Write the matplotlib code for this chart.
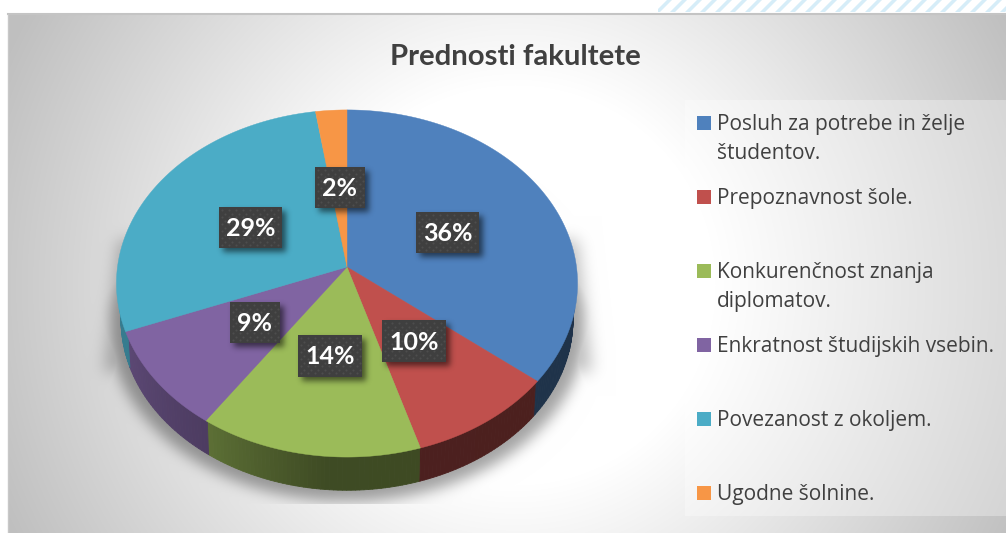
import numpy as np
import matplotlib
matplotlib.use('Agg')
import matplotlib.pyplot as plt
from matplotlib.collections import PolyCollection
from matplotlib.patches import Polygon, Rectangle

# Data
labels = ['Posluh za potrebe in želje\nštudentov.', 'Prepoznavnost šole.',
          'Konkurenčnost znanja\ndiplomatov.', 'Enkratnost študijskih vsebin.',
          'Povezanost z okoljem.', 'Ugodne šolnine.']
values = [35.75, 9.55, 14.3, 9.49, 28.51, 2.4]
colors = ['#4f81bd', '#c0504d', '#9bbb59', '#8064a2', '#4bacc6', '#f79646']
title = 'Prednosti fakultete'

W, H = 1006, 533
# data label boxes (left, top, right, bottom in pixels)
boxes = [(416, 212, 479, 253), (382, 320, 446, 362), (298, 335, 362, 377),
         (230, 302, 280, 343), (219, 207, 282, 248), (315, 167, 365, 208)]


def blur(a, sigma):
    n = int(sigma * 3)
    k = np.exp(-0.5 * (np.arange(-n, n + 1) / sigma) ** 2)
    k = k / k.sum()
    a = np.apply_along_axis(lambda r: np.convolve(r, k, mode='same'), 0, a)
    return np.apply_along_axis(lambda r: np.convolve(r, k, mode='same'), 1, a)


# perspective circle, angle in degrees clockwise from the top
def project(angle, scale=1.0, drop=0.0):
    t = np.radians(angle)
    u, v = np.sin(t), -np.cos(t)
    d = 1 - 0.095 * v
    return 347 + scale * 229.5 * u / d, 267 + drop + scale * 172 * v / d


yy, xx = np.mgrid[0:H, 0:W]

# background gradient
r = np.hypot(xx - 515, yy - 285)
grey = 1 - 0.25 * np.clip((r - 200) / 360, 0, 1)
bg = np.dstack([grey, grey, grey])

# legend panel is a lighter band
panel = (xx >= 685) & (yy >= 100) & (yy < 516)
bg[panel] = bg[panel] * 0.7 + 0.3

# shadow under the pie, soft wings on both sides
ex = ((xx - 347) / 238.0) ** 2 + ((yy - 325) / 176.0) ** 2 <= 1
taper = (yy >= 240) & (yy < 372) & (xx >= 118 - (yy - 240) * 0.11) & (xx <= 577 + (yy - 240) * 0.11)
mask = np.maximum(blur(ex.astype(float), 7), 0.7 * blur(taper.astype(float), 8))
mask[yy >= 504] = 0
shade = 1 - 0.36 * mask
bg = bg * shade[:, :, None]

# outside the panel
bg[:14, :] = 1
bg[:, :8] = 1

fig = plt.figure(figsize=(W / 100, H / 100), dpi=100)
ax = fig.add_axes([0, 0, 1, 1])
ax.imshow(bg, extent=(0, W, H, 0), interpolation='nearest', aspect='auto', zorder=0)

# stripes over the top right corner
strip = Rectangle((658, 0), W - 658, 12, fc='none', ec='none')
ax.add_patch(strip)
for x0 in range(640, W + 20, 15):
    p = Polygon([(x0, 12), (x0 + 5, 12), (x0 + 17, 0), (x0 + 12, 0)], fc='#d6edf8', ec='none', zorder=1)
    ax.add_patch(p)
    p.set_clip_path(strip)
ax.plot([8, W], [13.5, 13.5], color='#c4c4c4', lw=1.5, zorder=1)
ax.plot([8.5, 8.5], [14, H], color='#c8c8c8', lw=1, zorder=1)

# pie
edges = np.cumsum([0] + values) * 3.6
side_polys = []
side_cols = []
for i, c in enumerate(colors):
    base = np.array(matplotlib.colors.to_rgb(c))
    a = np.arange(edges[i], edges[i + 1], 1.0)
    a = np.append(a, edges[i + 1])
    for a0, a1 in zip(a[:-1], a[1:]):
        # back half is hidden behind the top face
        if np.cos(np.radians((a0 + a1) / 2)) > 0.1:
            continue
        x0, y0 = project(a0, 0.99)
        x1, y1 = project(a1, 0.99)
        x2, y2 = project(a1, 0.98, 37)
        x3, y3 = project(a0, 0.98, 37)
        f = np.interp((a0 + a1) / 2, [0, 185, 215, 250, 360], [0.38, 0.4, 0.6, 0.72, 0.72])
        side_polys.append([(x0, y0), (x1, y1), (x2, y2), (x3, y3)])
        side_cols.append(base * f)
ax.add_collection(PolyCollection(side_polys, facecolors=side_cols, edgecolors=side_cols, linewidths=0.6, zorder=2))

for i, c in enumerate(colors):
    a = np.linspace(edges[i], edges[i + 1], 120)
    px, py = project(a)
    pts = [(347, 267)] + list(zip(px, py))
    ax.add_patch(Polygon(pts, closed=True, fc=c, ec=c, lw=0.3, zorder=3))

# shadows of the label boxes
m = np.zeros((H, W))
for b in boxes:
    m[b[1] + 4:b[3] + 4, b[0] + 4:b[2] + 4] = 1
m = blur(m, 3)
sh = np.zeros((H, W, 4))
sh[:, :, 3] = m * 0.55
ax.imshow(sh, extent=(0, W, H, 0), interpolation='nearest', aspect='auto', zorder=4)

# data labels
for b, v in zip(boxes, values):
    ax.add_patch(Rectangle((b[0], b[1]), b[2] - b[0], b[3] - b[1], fc='#3f3f3f', ec='none', zorder=5))
    dx, dy = [], []
    for j, y in enumerate(np.arange(b[1] + 3, b[3] - 1, 3.5)):
        for x in np.arange(b[0] + 3 + (j % 2) * 3.5, b[2] - 1, 7):
            dx.append(x)
            dy.append(y)
    ax.scatter(dx, dy, s=2.5, c='#4d4d4d', linewidths=0, zorder=6)
    ax.text((b[0] + b[2]) / 2, (b[1] + b[3]) / 2 + 8.5, '%d%%' % round(v), color='white',
            fontsize=18, fontweight='bold', family='Lato', ha='center', va='baseline', zorder=7)

# title
ax.text(515, 65, title, color='#404040', fontsize=21.2, fontweight='bold', family='Lato',
        ha='center', va='baseline', zorder=7)

# legend
for i, (lab, c) in enumerate(zip(labels, colors)):
    top = 116 + i * 74
    ax.add_patch(Rectangle((697, top), 14, 14, fc=c, ec='none', zorder=7))
    for j, line in enumerate(lab.split('\n')):
        ax.text(717, top + 14 + j * 29, line, color='#404040', fontsize=15, family='Open Sans',
                ha='left', va='baseline', zorder=7)

ax.set_xlim(0, W)
ax.set_ylim(H, 0)
ax.axis('off')
plt.savefig('out.png', dpi=100)
